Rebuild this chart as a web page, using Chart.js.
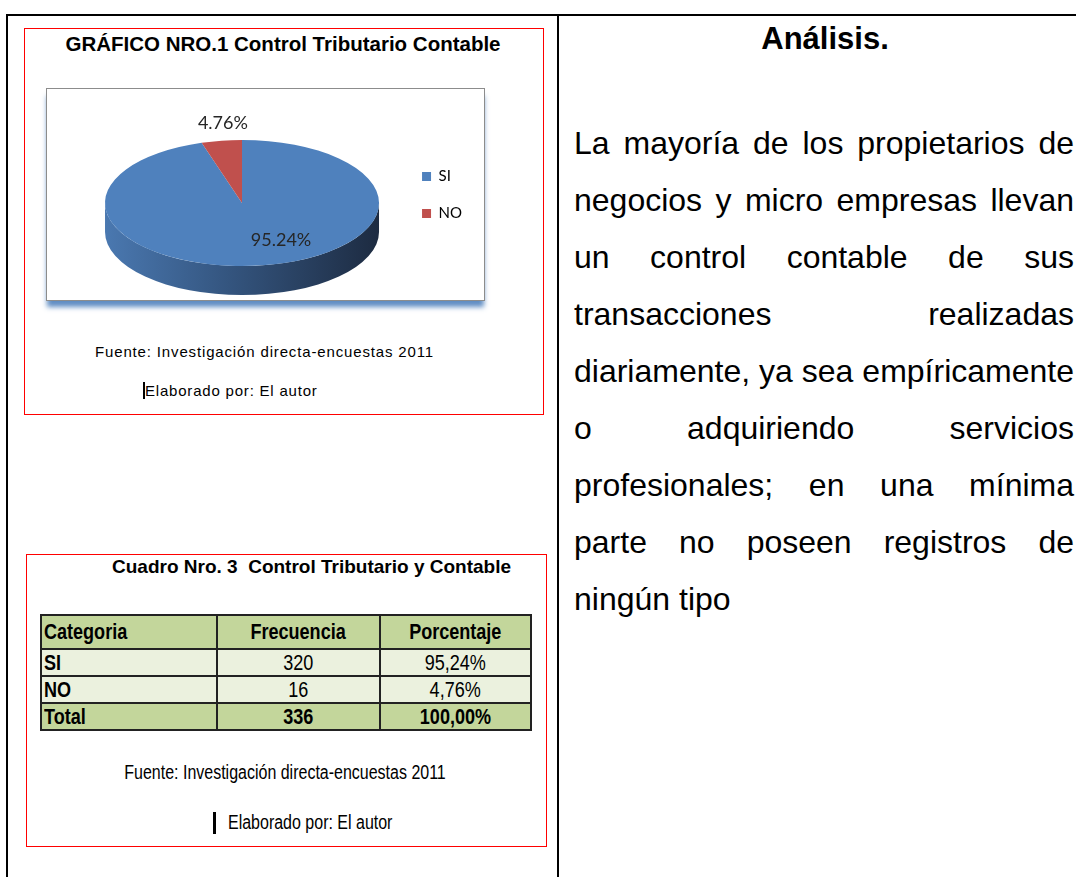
<!DOCTYPE html>
<html>
<head>
<meta charset="utf-8">
<script src="https://cdn.jsdelivr.net/npm/chart.js@4.4.0/dist/chart.umd.min.js"></script>
<style>
  body { margin: 0; background: #fff; width: 1076px; height: 877px; overflow: hidden; position: relative; font-family: "Liberation Sans", Arial, sans-serif; }
  .abs { position: absolute; }
  .outer { left: 6px; top: 14px; width: 1100px; height: 900px; border-left: 2px solid #000; border-top: 2px solid #000; }
  .divider { left: 557px; top: 14px; width: 2px; height: 900px; background: #000; }
  .redbox { border: 1.5px solid #f00; }
  .frame { left: 46px; top: 88px; width: 437px; height: 211px; border: 1px solid #8c8c8c; box-shadow: 0 7px 5px -1px rgba(79,129,189,0.9); background: #fff; }
  .nx { display: inline-block; transform: scaleX(0.82); white-space: nowrap; }
  .l .nx { transform-origin: left center; }
  .c .nx { transform-origin: center center; }
  table { border-collapse: collapse; }
  td { border: 2px solid #222; padding: 0 2px; height: 25px; line-height: 24px; font-size: 22px; }
  .para { left: 574px; top: 115px; width: 500px; font-size: 32px; line-height: 57px; text-align: justify; color: #000; }
</style>
</head>
<body>
<div class="abs outer"></div>
<div class="abs divider"></div>

<!-- grafico -->
<div class="abs redbox" style="left:24px;top:28px;width:518px;height:385px;"></div>
<div class="abs" style="left:24px;top:32px;width:518px;text-align:center;font-weight:bold;font-size:20.5px;">GRÁFICO NRO.1 Control Tributario Contable</div>
<div class="abs frame"></div>
<canvas id="pie" class="abs" style="left:84px;top:66px;" width="400" height="274"></canvas>
<div class="abs" style="left:95px;top:343px;font-size:15px;letter-spacing:0.85px;">Fuente: Investigación directa-encuestas 2011</div>
<div class="abs" style="left:143px;top:382px;font-size:15px;letter-spacing:0.8px;"><span style="border-left:2px solid #000;">Elaborado por: El autor</span></div>

<!-- cuadro -->
<div class="abs redbox" style="left:26px;top:554px;width:519px;height:291px;"></div>
<div class="abs" style="left:112px;top:556px;font-weight:bold;font-size:19px;">Cuadro Nro. 3&nbsp; Control Tributario y Contable</div>
<table class="abs" id="tbl" style="left:40px;top:614px;width:492px;"></table>
<div class="abs c" style="left:35px;top:761px;width:500px;text-align:center;font-size:19.5px;"><span class="nx">Fuente: Investigación directa-encuestas 2011</span></div>
<div class="abs" style="left:213px;top:812px;width:3px;height:22px;background:#000;"></div>
<div class="abs l" style="left:228px;top:811px;font-size:19.5px;"><span class="nx">Elaborado por: El autor</span></div>

<!-- analisis -->
<div class="abs" style="left:559px;top:21px;width:532px;text-align:center;font-weight:bold;font-size:31px;">Análisis.</div>
<div class="abs para">La mayoría de los propietarios de negocios y micro empresas llevan un control contable de sus transacciones realizadas diariamente, ya sea empíricamente o adquiriendo servicios profesionales; en una mínima parte no poseen registros de ningún tipo</div>

<script>
const categories = ["SI", "NO"]
const frecuencia = [320, 16]
const porcentaje = [95.24, 4.76]
const colors = ["#4f81bd", "#c0504d"]

// tabla
const tbl = document.getElementById("tbl")
const fmt = v => v.toFixed(2).replace(".", ",") + "%"
const cell = (txt, cls, extra) => `<td class="${cls}" style="${extra || ""}"><span class="nx">${txt}</span></td>`
let rows = `<tr style="background:#c3d69b;font-weight:bold;">` +
    cell("Categoria", "l", "width:170px;height:32px") + cell("Frecuencia", "c", "text-align:center;width:157px") + cell("Porcentaje", "c", "text-align:center") + `</tr>`
categories.forEach((c, i) => {
    rows += `<tr style="background:#ebf1de;">` + cell(c, "l", "font-weight:bold") +
        cell(frecuencia[i], "c", "text-align:center") + cell(fmt(porcentaje[i]), "c", "text-align:center") + `</tr>`
})
const total = frecuencia.reduce((a, b) => a + b, 0)
const totalPct = porcentaje.reduce((a, b) => a + b, 0)
rows += `<tr style="background:#c3d69b;font-weight:bold;">` + cell("Total", "l") +
    cell(total, "c", "text-align:center") + cell(fmt(totalPct), "c", "text-align:center") + `</tr>`
tbl.innerHTML = rows

// pie 3D: squash the pie vertically and draw the side wall under it
const squash = 0.46
const depth = 29

const pie3d = {
    id: "pie3d",
    beforeDatasetsDraw(chart) {
        const ctx = chart.ctx
        const arcs = chart.getDatasetMeta(0).data
        const cx = arcs[0].x, cy = arcs[0].y, r = arcs[0].outerRadius
        const grad = ctx.createLinearGradient(cx - r, 0, cx + r, 0)
        grad.addColorStop(0, "#4a78b0")
        grad.addColorStop(0.45, "#34557f")
        grad.addColorStop(1, "#1d2b41")
        const norm = a => ((a % (2 * Math.PI)) + 2 * Math.PI) % (2 * Math.PI)
        arcs.forEach(arc => {
            const s = norm(arc.startAngle), e = s + (arc.endAngle - arc.startAngle)
            // visible front part: angles 0..PI
            const parts = []
            if (Math.min(e, Math.PI) > s) parts.push([s, Math.min(e, Math.PI)])
            if (Math.min(e, 3 * Math.PI) > Math.max(s, 2 * Math.PI)) parts.push([Math.max(s, 2 * Math.PI), Math.min(e, 3 * Math.PI)])
            parts.forEach(([p, q]) => {
                ctx.beginPath()
                ctx.ellipse(cx, cy, r, r * squash, 0, p, q)
                ctx.ellipse(cx, cy + depth, r, r * squash, 0, q, p, true)
                ctx.closePath()
                ctx.fillStyle = grad
                ctx.fill()
            })
        })
        ctx.save()
        ctx.translate(cx, cy)
        ctx.scale(1, squash)
        ctx.translate(-cx, -cy)
    },
    afterDatasetsDraw(chart) {
        const ctx = chart.ctx
        ctx.restore()
        const arcs = chart.getDatasetMeta(0).data
        ctx.save()
        ctx.font = "18px Lato, 'Open Sans', sans-serif"
        ctx.fillStyle = "#262626"
        ctx.textAlign = "center"
        ctx.textBaseline = "middle"
        arcs.forEach((arc, i) => {
            const mid = (arc.startAngle + arc.endAngle) / 2
            const small = porcentaje[i] < 10
            const f = small ? 1.28 : 0.59
            const nudge = small ? 7 : 27
            const x = arc.x + Math.cos(mid) * arc.outerRadius * f + nudge
            const y = arc.y + Math.sin(mid) * arc.outerRadius * f * squash
            ctx.fillText(porcentaje[i].toFixed(2) + "%", x, y)
        })
        ctx.restore()
    }
}

new Chart(document.getElementById("pie").getContext("2d"), {
    type: "pie",
    data: {
        labels: categories,
        datasets: [{
            data: porcentaje,
            backgroundColor: colors,
            borderWidth: 0,
            hoverOffset: 0
        }]
    },
    options: {
        responsive: false,
        animation: false,
        layout: { padding: { right: 12 } },
        plugins: {
            tooltip: { enabled: false },
            legend: {
                position: "right",
                align: "start",
                title: { display: true, text: "", font: { size: 10 }, padding: { top: 69, bottom: 0 } },
                labels: {
                    boxWidth: 9,
                    boxHeight: 9,
                    padding: 22,
                    color: "#000",
                    font: { size: 15, family: "Lato, 'Open Sans', sans-serif" }
                }
            }
        }
    },
    plugins: [pie3d]
})
</script>
</body>
</html>
